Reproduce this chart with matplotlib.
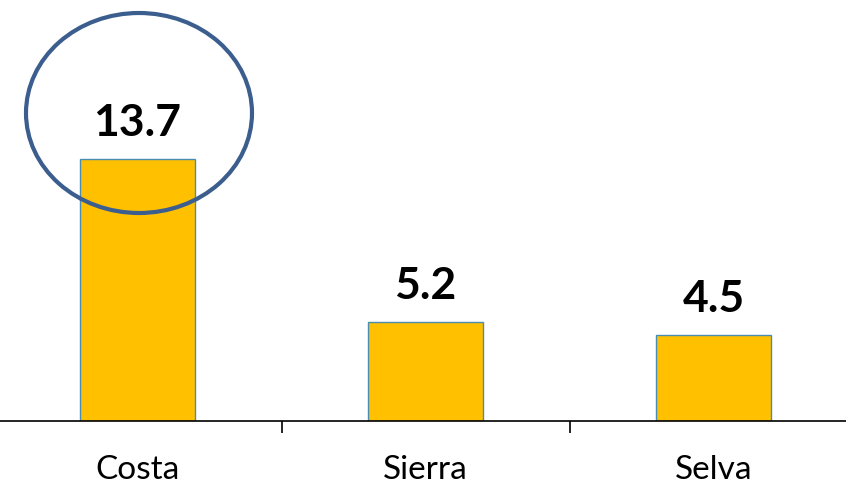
import matplotlib
matplotlib.use("Agg")
import matplotlib.pyplot as plt
from matplotlib.patches import Ellipse
import matplotlib.transforms as mtransforms

categories = ["Costa", "Sierra", "Selva"]
values = [13.7, 5.2, 4.5]
value_labels = ["13.7", "5.2", "4.5"]

plt.rcParams['font.family'] = ['Lato', 'DejaVu Sans']

W, H = 846, 485
fig = plt.figure(figsize=(W/100, H/100), dpi=100)
base_px = 422
ax = fig.add_axes([0, (H - base_px)/H, 1, base_px/H])

x = list(range(len(categories)))
ax.bar(x, values, width=0.4, color="#FFC000", edgecolor="#4A8DB0", linewidth=1.0, zorder=2)

ppu = 262/13.7
ax.set_xlim(-137.5/288, (W-137.5)/288)
ax.set_ylim(0, base_px/ppu)

for s in ["top", "left", "right"]:
    ax.spines[s].set_visible(False)
ax.spines["bottom"].set_linewidth(1.2)
ax.spines["bottom"].set_color("#000000")
ax.set_yticks([])
ax.set_xticks([])
ax.set_xticks([0.5, 1.5], minor=True)
ax.tick_params(axis="x", which="minor", length=8.6, width=1.2, color="#000000", direction="out")

trans = mtransforms.blended_transform_factory(ax.transData, ax.transAxes)
for xi, c in zip(x, categories):
    ax.text(xi, (base_px-470)/base_px, c, transform=trans, ha="center", va="center",
            fontsize=24, color="#000000")

for xi, v, lab in zip(x, values, value_labels):
    ax.annotate(lab, (xi, v), xytext=(0, 17), textcoords="offset points",
                ha="center", va="baseline", fontsize=32, fontweight="bold", color="#000000")

ell = Ellipse(((139-137.5)/288, (base_px-114)/ppu), width=226/288, height=200/ppu,
              fill=False, edgecolor="#3B5E8E", linewidth=3.0, clip_on=False, zorder=3)
ax.add_patch(ell)

fig.savefig("out.png", dpi=100)
